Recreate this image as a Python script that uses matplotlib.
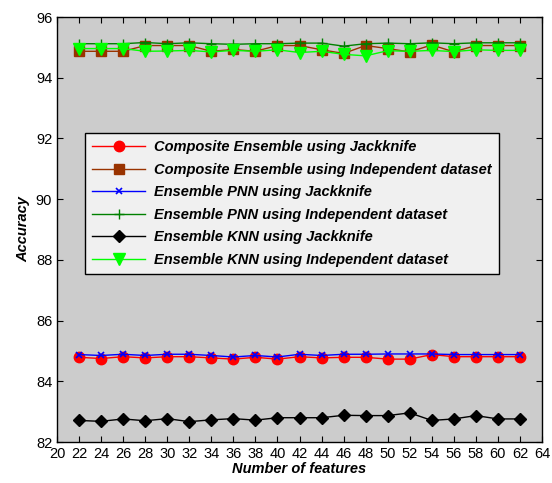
import numpy as np
import matplotlib
matplotlib.use('Agg')
from matplotlib import pyplot as plt

# number of features
features = list(range(22, 64, 2))

comp_jack = [84.79, 84.75, 84.81, 84.77, 84.81, 84.81, 84.77, 84.73, 84.79, 84.73, 84.81,
             84.77, 84.79, 84.79, 84.73, 84.73, 84.88, 84.81, 84.81, 84.81, 84.81]
comp_indep = [94.87, 94.87, 94.87, 95.06, 95.06, 95.06, 94.87, 94.93, 94.87, 95.06, 95.06,
              94.92, 94.80, 95.06, 94.96, 94.85, 95.08, 94.85, 95.06, 95.06, 95.06]
pnn_jack = [84.88, 84.85, 84.89, 84.85, 84.89, 84.89, 84.85, 84.80, 84.85, 84.80, 84.89,
            84.85, 84.89, 84.89, 84.90, 84.90, 84.90, 84.88, 84.88, 84.88, 84.88]
pnn_indep = [95.12, 95.12, 95.12, 95.16, 95.12, 95.15, 95.12, 95.10, 95.12, 95.12, 95.14,
             95.14, 95.04, 95.12, 95.14, 95.12, 95.15, 95.12, 95.15, 95.15, 95.15]
knn_jack = [82.71, 82.68, 82.76, 82.70, 82.77, 82.67, 82.73, 82.77, 82.72, 82.80, 82.80,
            82.80, 82.88, 82.87, 82.87, 82.96, 82.71, 82.76, 82.87, 82.76, 82.76]
knn_indep = [94.96, 94.96, 94.96, 94.87, 94.88, 94.90, 94.85, 94.90, 94.87, 94.92, 94.83,
             94.87, 94.77, 94.72, 94.89, 94.87, 94.90, 94.86, 94.92, 94.90, 94.90]

labels = ['Composite Ensemble using Jackknife',
          'Composite Ensemble using Independent dataset',
          'Ensemble PNN using Jackknife',
          'Ensemble PNN using Independent dataset',
          'Ensemble KNN using Jackknife',
          'Ensemble KNN using Independent dataset']

plt.rcParams['font.family'] = ['Liberation Sans', 'DejaVu Sans']

fig = plt.figure(figsize=(5.52, 4.83), dpi=100)
ax = fig.add_axes([57/552, 1 - 442/483, 485/552, 425/483])
ax.set_facecolor('#cccccc')

ax.plot(features, comp_jack, color='#ff0000', marker='o', markersize=7.5, lw=1, label=labels[0])
ax.plot(features, comp_indep, color='#993300', marker='s', markersize=7, lw=1, label=labels[1])
ax.plot(features, pnn_jack, color='#0000ff', marker='x', markersize=4, mew=1.2, lw=1, label=labels[2])
ax.plot(features, pnn_indep, color='#008000', marker='+', markersize=7, mew=1, lw=1, label=labels[3])
ax.plot(features, knn_jack, color='black', marker='D', markersize=6.5, lw=1, label=labels[4])
ax.plot(features, knn_indep, color='#00ff00', marker='v', markersize=8.5, lw=1, label=labels[5])

ax.set_xlim(20, 64)
ax.set_ylim(82, 96)
ax.set_xticks(range(20, 65, 2))
ax.set_yticks(range(82, 97, 2))
ax.tick_params(direction='in', top=True, right=True, labelsize=10.5, length=4, width=0.8)
for s in ax.spines.values():
    s.set_linewidth(1)

ax.set_xlabel('Number of features', fontsize=10.5, fontweight='bold', fontstyle='italic', labelpad=1)
ax.set_ylabel('Accuracy', fontsize=10.5, fontweight='bold', fontstyle='italic', labelpad=4)

leg = ax.legend(loc='upper left', bbox_to_anchor=(0.058, 0.727), borderaxespad=0,
                prop={'weight': 'bold', 'style': 'italic', 'size': 10.5},
                frameon=True, fancybox=False, borderpad=0.5, labelspacing=0.58,
                handlelength=3.6, handletextpad=0.6)
leg.get_frame().set_facecolor('#f0f0f0')
leg.get_frame().set_edgecolor('black')
leg.get_frame().set_alpha(1)

fig.savefig('out.png', dpi=100)
